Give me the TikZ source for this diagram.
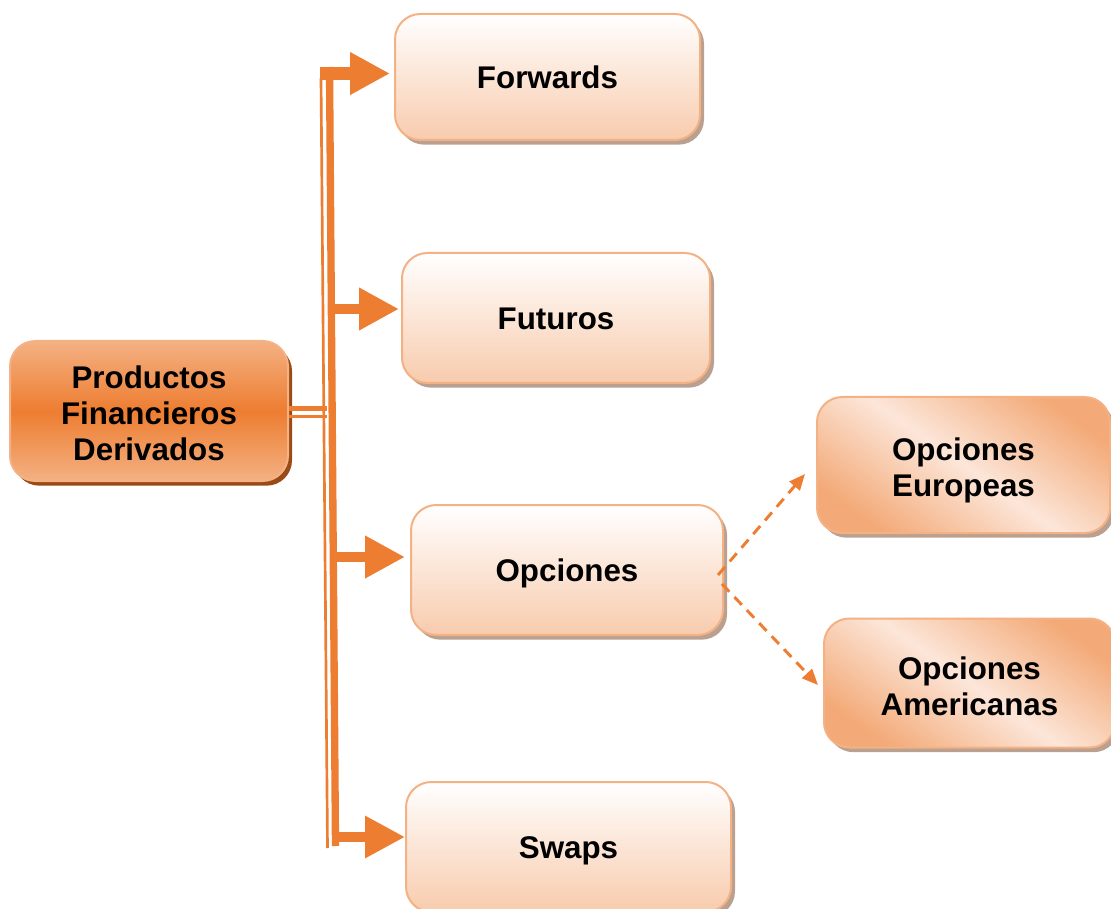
\documentclass[tikz,border=0pt]{standalone}
\usepackage{fontspec}
\setmainfont{Liberation Sans}
\usetikzlibrary{arrows.meta,shadows,calc}
\definecolor{orng}{HTML}{ED7D31}
\definecolor{bordr}{HTML}{F4B183}
\definecolor{peach}{HTML}{F8CBAD}
\definecolor{shad}{RGB}{185,160,145}
\definecolor{dshad}{HTML}{9A4A16}
\definecolor{elight}{HTML}{FCE6D9}
\definecolor{eorng}{HTML}{F3AA78}
\newcommand\lowtext[2]{\raisebox{-#1}[\height][\depth]{\begin{tabular}{@{}c@{}}#2\end{tabular}}}
\tikzset{
  basebox/.style={rounded corners=19pt, inner sep=0pt, align=center,
    font=\fontsize{23.5}{27}\selectfont\bfseries, text=black,
    draw=bordr, line width=1.5pt},
  leafbox/.style={basebox, top color=white, bottom color=peach,
    drop shadow={shadow xshift=3pt, shadow yshift=-3.5pt, fill=shad, opacity=1}},
  rootbox/.style={basebox, top color=bordr, bottom color=bordr, middle color=orng,
    drop shadow={shadow xshift=3pt, shadow yshift=-3.5pt, fill=dshad, opacity=1}},
  subbox/.style={basebox, left color=eorng, right color=eorng, middle color=elight,
    shading angle=-35,
    drop shadow={shadow xshift=3pt, shadow yshift=-3.5pt, fill=shad, opacity=1}},
  blockarrow/.style={draw=orng, line width=10pt, -{Triangle[length=30pt,width=30pt]}},
  dasharrow/.style={draw=orng, line width=2.2pt, dash pattern=on 8pt off 5.5pt,
    -{Triangle[length=12pt,width=10pt]}},
  trunkline/.style={draw=orng},
}
\begin{document}
\begin{tikzpicture}[x=0.75pt,y=-0.75pt]
\useasboundingbox (0,0) rectangle (1111,909);
% boxes
\node[leafbox, minimum width=305*0.75pt, minimum height=126*0.75pt] (fwd) at (547.5,77) {Forwards};
\node[leafbox, minimum width=308*0.75pt, minimum height=130*0.75pt] (fut) at (556,318) {\lowtext{3pt}{Futuros}};
\node[leafbox, minimum width=312*0.75pt, minimum height=130*0.75pt] (opc) at (567,570) {\lowtext{3pt}{Opciones}};
\node[leafbox, minimum width=325*0.75pt, minimum height=130*0.75pt] (swp) at (568.5,847) {\lowtext{3pt}{Swaps}};
\node[rootbox, minimum width=278*0.75pt, minimum height=140*0.75pt] (root) at (149,411) {\lowtext{4.5pt}{Productos\\Financieros\\Derivados}};
\node[subbox, minimum width=293*0.75pt, minimum height=136*0.75pt] (eur) at (963.5,465) {\lowtext{5pt}{Opciones\\Europeas}};
\node[subbox, minimum width=291*0.75pt, minimum height=129*0.75pt] (ame) at (969.5,683) {\lowtext{5.25pt}{Opciones\\Americanas}};
% trunk
\coordinate (ta) at (321,78);
\coordinate (tb) at (327.5,848);
\coordinate (tc) at (329.5,67);
\coordinate (td) at (335.5,846);
\draw[trunkline, line width=2pt] (ta) -- (tb);
\draw[trunkline, line width=5.5pt] (tc) -- (td);
% link from root
\coordinate (j1) at (327,408.5);
\coordinate (j2) at (327,416.5);
\draw[trunkline, line width=4pt] (root.east |- j1) -- (j1);
\draw[trunkline, line width=2pt] (root.east |- j2) -- (j2);
% block arrows
\coordinate (b1) at (320,73.5);
\coordinate (b2) at (331,309);
\coordinate (b3) at (333,557);
\coordinate (b4) at (335,837);
\draw[blockarrow] (b1) -- ($(b1 -| fwd.west)+(-4,0)$);
\draw[blockarrow, line width=8pt] (b2) -- ($(b2 -| fut.west)+(-2,0)$);
\draw[blockarrow, line width=8pt] (b3) -- ($(b3 -| opc.west)+(-5,0)$);
\draw[blockarrow, line width=7pt] (b4) -- ($(b4 -| swp.west)+(0,0)$);
% dashed arrows
\draw[dasharrow] ($(opc.east)+(-6,5)$) -- ($(eur.west)+(-11,9)$);
\draw[dasharrow] ($(opc.east)+(-2,14)$) -- ($(ame.west)+(-5,2)$);
\end{tikzpicture}
\end{document}
